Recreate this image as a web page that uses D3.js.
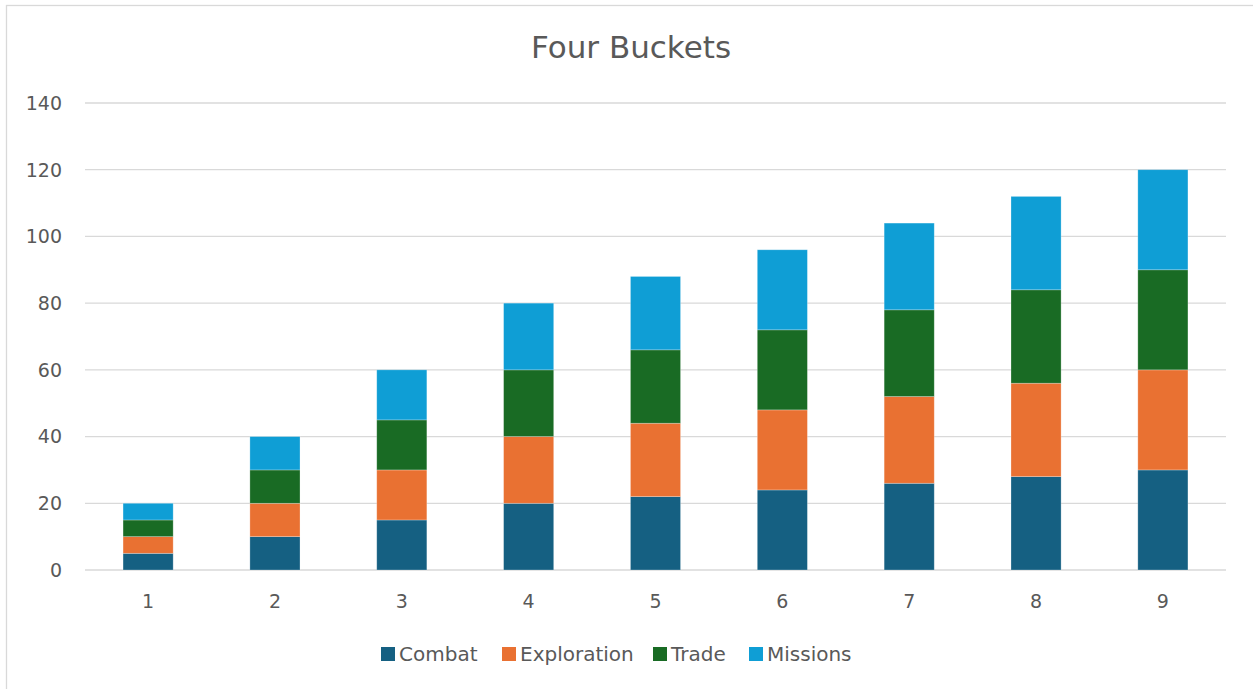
<!DOCTYPE html>
<html>
<head>
<meta charset="utf-8">
<script src="https://cdn.jsdelivr.net/npm/d3@7"></script>
<style>
  body { margin: 0; background: #fff; }
  text { font-family: "DejaVu Sans", sans-serif; fill: #595959; }
</style>
</head>
<body>
<script>
const width = 1253;
const height = 689;

const categories = ['1', '2', '3', '4', '5', '6', '7', '8', '9'];
const seriesNames = ['Combat', 'Exploration', 'Trade', 'Missions'];
const combat = [5, 10, 15, 20, 22, 24, 26, 28, 30];
const exploration = [5, 10, 15, 20, 22, 24, 26, 28, 30];
const trade = [5, 10, 15, 20, 22, 24, 26, 28, 30];
const missions = [5, 10, 15, 20, 22, 24, 26, 28, 30];
const yTicks = [0, 20, 40, 60, 80, 100, 120, 140];
const colors = ['#156082', '#E97132', '#196B24', '#0F9ED5'];

// table for d3.stack
const rows = categories.map((c, i) => ({
    cat: c,
    Combat: combat[i],
    Exploration: exploration[i],
    Trade: trade[i],
    Missions: missions[i]
}));

const svg = d3.select('body')
    .append('svg')
    .attr('width', width)
    .attr('height', height);

// chart frame (left / top edges visible)
svg.append('rect')
    .attr('x', 6.5)
    .attr('y', 5.5)
    .attr('width', width + 10)
    .attr('height', height + 10)
    .attr('fill', 'none')
    .attr('stroke', '#d9d9d9')
    .attr('stroke-width', 1.3);

const x = d3.scaleBand()
    .domain(categories)
    .range([85, 1226])
    .paddingInner(0.605)
    .paddingOuter(0.3);

const y = d3.scaleLinear()
    .domain([0, 140])
    .range([570, 103]);

const color = d3.scaleOrdinal(seriesNames, colors);

// gridlines
svg.append('g').selectAll('line')
    .data(yTicks)
    .enter().append('line')
    .attr('x1', 85)
    .attr('x2', 1226)
    .attr('y1', d => y(d))
    .attr('y2', d => y(d))
    .attr('stroke', '#d9d9d9')
    .attr('stroke-width', 1.3);

// y labels
svg.append('g').selectAll('text')
    .data(yTicks)
    .enter().append('text')
    .attr('x', 62)
    .attr('y', d => y(d))
    .attr('dy', '0.36em')
    .attr('text-anchor', 'end')
    .attr('font-size', 19)
    .text(d => d);

// x labels
svg.append('g').selectAll('text')
    .data(categories)
    .enter().append('text')
    .attr('x', d => x(d) + x.bandwidth() / 2)
    .attr('y', 601)
    .attr('dy', '0.36em')
    .attr('text-anchor', 'middle')
    .attr('font-size', 19)
    .text(d => d);

const stacked = d3.stack().keys(seriesNames)(rows);

svg.append('g').selectAll('g')
    .data(stacked)
    .enter().append('g')
    .attr('fill', d => color(d.key))
    .selectAll('rect')
    .data(d => d)
    .enter().append('rect')
    .attr('x', d => x(d.data.cat))
    .attr('width', x.bandwidth())
    .attr('y', d => y(d[1]))
    .attr('height', d => y(d[0]) - y(d[1]))
    .attr('stroke', 'rgba(255,255,255,0.35)')
    .attr('stroke-width', 0.75);

// title
svg.append('text')
    .attr('x', 631)
    .attr('y', 47)
    .attr('dy', '0.36em')
    .attr('text-anchor', 'middle')
    .attr('font-size', 31)
    .text('Four Buckets');

// legend
const legendX = [381, 502, 653, 749];
const legend = svg.append('g').selectAll('g')
    .data(seriesNames)
    .enter().append('g')
    .attr('transform', (d, i) => `translate(${legendX[i]},647)`);
legend.append('rect')
    .attr('width', 14)
    .attr('height', 14)
    .attr('fill', d => color(d));
legend.append('text')
    .attr('x', 18)
    .attr('y', 7)
    .attr('dy', '0.36em')
    .attr('font-size', 20)
    .text(d => d);
</script>
</body>
</html>
